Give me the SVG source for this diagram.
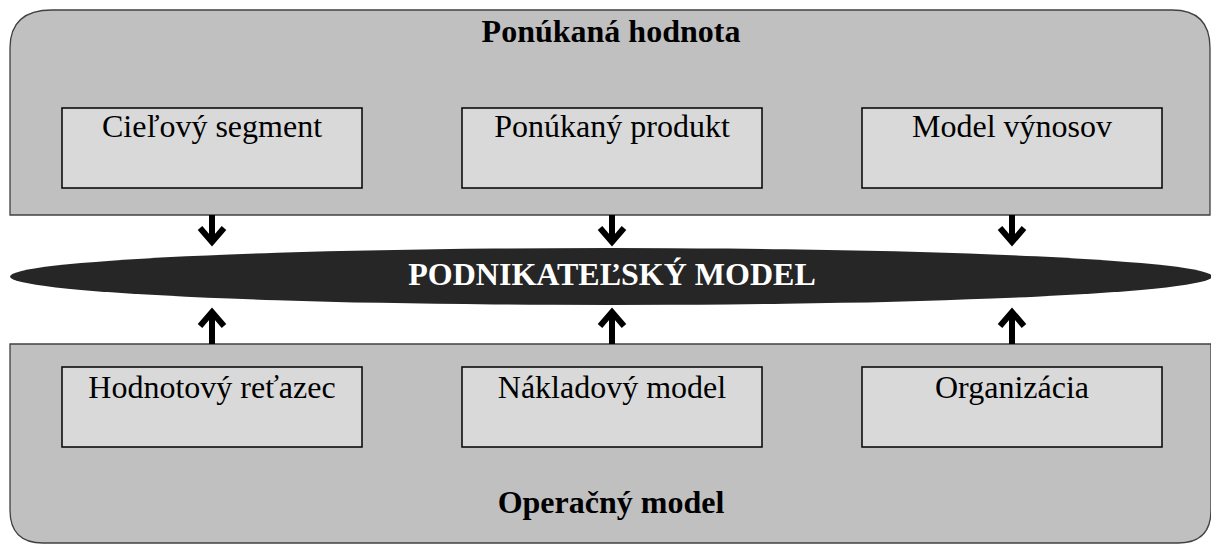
<svg xmlns="http://www.w3.org/2000/svg" width="1211" height="544" viewBox="0 0 1211 544">
<style>
.container{fill:#c0c0c0;stroke:#404040;stroke-width:1.3}
.box{fill:#d9d9d9;stroke:#000;stroke-width:1.5}
.t{font-family:"Liberation Serif","Times New Roman",serif;font-size:32px;fill:#000;text-anchor:middle}
.b{font-weight:bold}
.arrow{fill:none;stroke:#000;stroke-width:6;stroke-linejoin:miter;stroke-miterlimit:10}
</style>
<rect width="1211" height="544" fill="#fff"/>
<g id="ponukana-hodnota">
<path class="container" d="M10,215 L10,48 Q10,10 52,10 L1172,10 Q1210,10 1210,48 L1210,215 Z"/>
<text class="t b" x="611" y="42">Ponúkaná hodnota</text>
</g>
<g id="operacny-model">
<path class="container" d="M10,344 L1211,344 L1211,510 Q1211,543 1178,543 L43,543 Q10,543 10,510 Z"/>
<text class="t b" x="611" y="513">Operačný model</text>
</g>
<g id="cielovy-segment">
<rect class="box" x="62" y="108" width="300" height="80"/>
<text class="t" x="212" y="137">Cieľový segment</text>
</g>
<g id="ponukany-produkt">
<rect class="box" x="462" y="108" width="300" height="80"/>
<text class="t" x="612" y="137">Ponúkaný produkt</text>
</g>
<g id="model-vynosov">
<rect class="box" x="862" y="108" width="300" height="80"/>
<text class="t" x="1012" y="137">Model výnosov</text>
</g>
<g id="hodnotovy-retazec">
<rect class="box" x="62" y="367" width="300" height="80"/>
<text class="t" x="212" y="398">Hodnotový reťazec</text>
</g>
<g id="nakladovy-model">
<rect class="box" x="462" y="367" width="300" height="80"/>
<text class="t" x="612" y="398">Nákladový model</text>
</g>
<g id="organizacia">
<rect class="box" x="862" y="367" width="300" height="80"/>
<text class="t" x="1012" y="398">Organizácia</text>
</g>
<g id="connectors">
<path class="arrow" d="M212,215 V242 M200,228 L212,242 L224,228"/>
<path class="arrow" d="M612,215 V242 M600,228 L612,242 L624,228"/>
<path class="arrow" d="M1012,215 V242 M1000,228 L1012,242 L1024,228"/>
<path class="arrow" d="M212,344 V312 M200,326 L212,312 L224,326"/>
<path class="arrow" d="M612,344 V312 M600,326 L612,312 L624,326"/>
<path class="arrow" d="M1012,344 V312 M1000,326 L1012,312 L1024,326"/>
</g>
<g id="podnikatelsky-model">
<ellipse cx="611" cy="276.5" rx="601" ry="28.5" fill="#262626"/>
<text class="t b" x="612" y="285" style="fill:#fff">PODNIKATEĽSKÝ MODEL</text>
</g>
</svg>
